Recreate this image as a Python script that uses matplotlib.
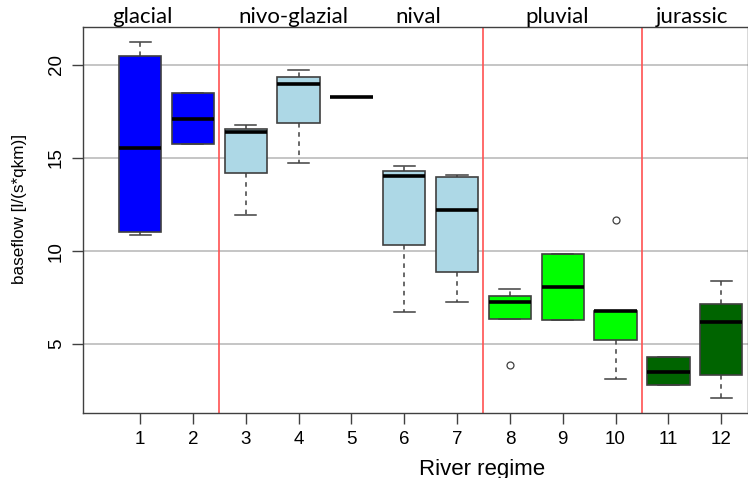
import matplotlib
matplotlib.use("Agg")
import matplotlib.pyplot as plt
from matplotlib.transforms import blended_transform_factory

positions = [1, 2, 3, 4, 5, 6, 7, 8, 9, 10, 11, 12]
whislo = [10.88, 15.75, 11.96, 14.75, 18.27, 6.74, 7.26, 6.36, 6.29, 3.12, 2.80, 2.12]
q1     = [11.03, 15.75, 14.19, 16.89, 18.27, 10.35, 8.88, 6.36, 6.29, 5.20, 2.80, 3.34]
med    = [15.53, 17.12, 16.39, 19.00, 18.27, 14.01, 12.23, 7.29, 8.06, 6.77, 3.52, 6.18]
q3     = [20.50, 18.48, 16.57, 19.36, 18.27, 14.28, 13.96, 7.60, 9.85, 6.80, 4.31, 7.18]
whishi = [21.23, 18.48, 16.75, 19.73, 18.27, 14.58, 14.07, 7.97, 9.85, 6.80, 4.31, 8.38]
fliers = [[], [], [], [], [], [], [], [3.86], [], [11.67], [], []]
colors = ["#0000FF", "#0000FF", "#ADD8E6", "#ADD8E6", "#ADD8E6", "#ADD8E6", "#ADD8E6",
          "#00FF00", "#00FF00", "#00FF00", "#006400", "#006400"]
regime_names = ["glacial", "nivo-glazial", "nival", "pluvial", "jurassic"]
regime_label_x = [1.04, 3.9, 6.27, 8.89, 11.44]
separators = [2.5, 7.5, 10.5]
yticks = [5, 10, 15, 20]

plt.rcParams['font.family'] = ['Liberation Sans', 'DejaVu Sans']
fig = plt.figure(figsize=(7.48, 4.78), dpi=100)
ax = fig.add_axes([0.111, 0.1366, 0.8885, 0.8069])

for y in yticks:
    ax.axhline(y, color="#c0c0c0", lw=1.3, zorder=0)
for x in separators:
    ax.axvline(x, color="#ff5252", lw=1.2, zorder=1)

stats = []
for i in range(len(positions)):
    stats.append(dict(whislo=whislo[i], q1=q1[i], med=med[i], q3=q3[i],
                      whishi=whishi[i], fliers=fliers[i]))

bp = ax.bxp(stats, positions=positions, widths=0.8, patch_artist=True,
            capwidths=0.4,
            boxprops=dict(edgecolor="#404040", linewidth=1.2),
            medianprops=dict(color="black", linewidth=2.6, solid_capstyle="butt"),
            whiskerprops=dict(color="#404040", linestyle=(0, (3, 3)), linewidth=1.1),
            capprops=dict(color="#404040", linewidth=1.1),
            flierprops=dict(marker="o", markerfacecolor="none", markeredgecolor="#404040",
                            markersize=5, markeredgewidth=0.9))
for patch, c in zip(bp["boxes"], colors):
    patch.set_facecolor(c)
    patch.set_zorder(2)

ax.set_xlim(-0.08, 12.5)
ax.set_ylim(1.32, 22.04)
ax.set_xticks(positions)
ax.set_xticklabels([str(p) for p in positions], fontsize=13.5)
ax.set_yticks(yticks)
ax.set_yticklabels([str(y) for y in yticks], fontsize=13.5, rotation=90, va="center")
ax.tick_params(direction="out", length=8, width=1, color="#404040", pad=5)
for s in ax.spines.values():
    s.set_color("#404040")
    s.set_linewidth(1.0)

# axis titles
trans_xlab = blended_transform_factory(ax.transData, fig.transFigure)
fig.text(7.48, 0.006, "River regime", transform=trans_xlab, ha="center", va="baseline",
         fontsize=16)
fig.text(20 / 748, 1 - 209 / 478, "baseflow [l/(s*qkm)]", rotation=90, ha="center",
         va="center", fontsize=12.3)

for name, x in zip(regime_names, regime_label_x):
    ax.text(x, 1.010, name, transform=ax.get_xaxis_transform(), ha="center", va="baseline",
            fontsize=16, family=["Lato", "DejaVu Sans"])

fig.savefig("out.png", dpi=100)
